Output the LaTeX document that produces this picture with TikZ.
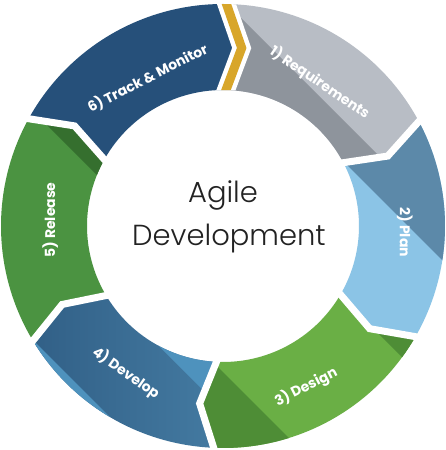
\documentclass[tikz,border=0pt]{standalone}
\usepackage{fontspec}
\newfontfamily\agilefont{Poppins Light}
\newfontfamily\stepfont{Poppins}
\definecolor{trackblue}{HTML}{26507A}
\definecolor{reqlight}{HTML}{B8BDC5}
\definecolor{reqdark}{HTML}{8E949C}
\definecolor{planlight}{HTML}{8BC4E6}
\definecolor{plandark}{HTML}{5C89A9}
\definecolor{designlight}{HTML}{6AAF45}
\definecolor{designdark}{HTML}{4E8D36}
\definecolor{devmid}{HTML}{457CA3}
\definecolor{devdark}{HTML}{2E5B82}
\definecolor{devlight}{HTML}{4E92BD}
\definecolor{releasegreen}{HTML}{4B9341}
\definecolor{releasedark}{HTML}{356F2E}
\definecolor{gold}{HTML}{D8A62A}
\definecolor{agiletext}{HTML}{222222}
\tikzset{
  ring sector/.style 2 args={insert path={(#1:222) arc[start angle=#1, end angle=#2, radius=222]
      -- (#2-6:179) -- (#2:136) arc[start angle=#2, end angle=#1, radius=136] -- (#1-6:179) -- cycle}},
  gap/.style={draw=white, line width=7pt, line join=miter},
  steplabel/.style={text=white, font=\stepfont\bfseries\fontsize{14}{16}\selectfont},
  centertext/.style={anchor=base, text=agiletext, font=\agilefont\fontsize{29}{35}\selectfont}
}
\newcommand\darkLL[2]{\fill[#1] (#2) ++(-300,300) -- ++(600,-600) -- ++(-300,-300) -- ++(-600,600) -- cycle;}
\newcommand\darkUR[2]{\fill[#1] (#2) ++(-300,300) -- ++(600,-600) -- ++(300,300) -- ++(-600,600) -- cycle;}
\begin{document}
\begin{tikzpicture}[x=1pt, y=1pt]
    \useasboundingbox[fill=white] (-223,-224) rectangle (223,226);

    \fill[trackblue, ring sector={152}{90}];
    \begin{scope}
        \clip[ring sector={90}{29}];
        \fill[reqlight] (-230,-230) rectangle (230,230);
        \darkLL{reqdark}{20,206}
    \end{scope}
    \begin{scope}
        \clip[ring sector={29}{-29}];
        \fill[planlight] (-230,-230) rectangle (230,230);
        \darkUR{plandark}{122,63}
    \end{scope}
    \begin{scope}
        \clip[ring sector={-29}{-91.5}];
        \fill[designlight] (-230,-230) rectangle (230,230);
        \darkLL{designdark}{0,-146}
        \darkUR{designdark}{160,-112}
    \end{scope}
    \begin{scope}
        \clip[ring sector={-91.5}{-148}];
        \shade[left color=devdark, right color=devmid] (-225,-230) rectangle (10,-60);
        \darkLL{devlight}{-190,-114}
        \darkUR{devlight}{-63,-121}
    \end{scope}
    \begin{scope}
        \clip[ring sector={212}{152}];
        \fill[releasegreen] (-230,-230) rectangle (230,230);
        \darkUR{releasedark}{-181,106}
    \end{scope}

    \foreach \b in {29,-29,-91.5,-148,152}
        \draw[gap] (\b:232) -- (\b-6:179) -- (\b:128);

    \begin{scope}
        \clip (80:222) arc[start angle=80, end angle=100, radius=222] -- (100:136)
            arc[start angle=100, end angle=80, radius=136] -- cycle;
        \draw[gap, line width=18pt] (90:232) -- (84:179) -- (90:128);
        \draw[gap, draw=gold, line width=9pt] (90:232) -- (84:179) -- (90:128);
    \end{scope}

    \node[steplabel, rotate=27] (track) at (117:166) {6) Track \& Monitor};
    \node[steplabel, rotate=-34] (require) at (56:173) {1) Requirements};
    \node[steplabel, rotate=-90] (plan) at (-2:182) {2) Plan};
    \node[steplabel, rotate=27] (design) at (-62.7:181) {3) Design};
    \node[steplabel, rotate=-35] (develop) at (236.6:176) {4) Develop};
    \node[steplabel, rotate=90] (release) at (178:173) {5) Release};

    \node[centertext] (agile) at (0,24) {Agile};
    \node[centertext] (devel) at (6,-19) {Development};
\end{tikzpicture}
\end{document}
